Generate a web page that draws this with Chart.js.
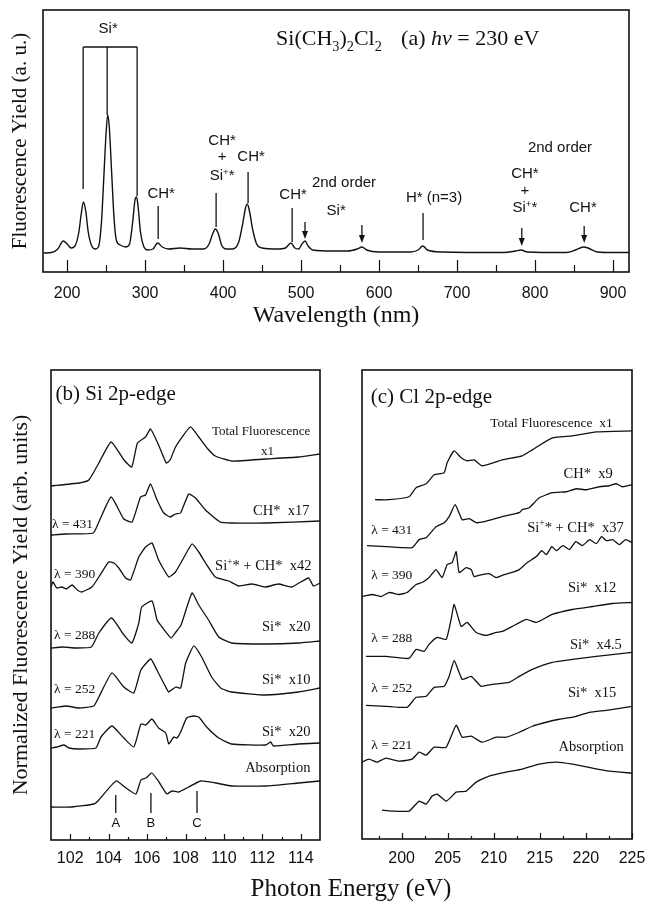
<!DOCTYPE html>
<html>
<head>
<meta charset="utf-8">
<script src="https://cdn.jsdelivr.net/npm/chart.js@4.4.1/dist/chart.umd.min.js"></script>
<style>
  body { margin: 0; background: #fff; }
  #page { position: relative; width: 648px; height: 901px; overflow: hidden; background: #fff; }
  canvas { position: absolute; }
  #energyTitle {
    position: absolute; left: 201px; width: 300px; top: 875px;
    text-align: center; font: 25px/25px "Liberation Serif", "Times New Roman", serif; color: #111;
  }
</style>
</head>
<body>
<div id="page">
  <canvas id="spectrum" width="648" height="330" style="left:0;top:0"></canvas>
  <canvas id="siEdge" width="340" height="571" style="left:0;top:330px"></canvas>
  <canvas id="clEdge" width="308" height="571" style="left:340px;top:330px"></canvas>
  <div id="energyTitle">Photon Energy (eV)</div>
</div>
<script>
// (a) fluorescence spectrum, hv = 230 eV
const wavelength = [170, 180, 188, 195, 200, 205, 210, 215, 218, 221, 224, 227, 231, 236, 240, 244, 247, 250, 252, 254,
  257, 260, 263, 268, 275, 280, 284, 287, 289, 291, 294, 298, 303, 310, 316, 322, 330, 345, 360, 375,
  382, 386, 390, 394, 398, 404, 412, 420, 425, 429, 431, 434, 438, 443, 450, 470, 480, 487, 492, 497,
  501, 505, 509, 515, 540, 560, 572, 578, 584, 600, 640, 650, 656, 662, 680, 760, 775, 782, 790, 840,
  852, 862, 868, 880, 900, 921];
const fluorYield = [-0.1, -0.05, 0.3, 1.1, 0.8, 0.4, 0.6, 2.0, 3.8, 5.0, 4.0, 2.0, 0.7, 0.3, 0.5, 3.0, 7.5, 12.0, 13.7, 12.5,
  8.0, 3.5, 1.2, 0.7, 0.5, 0.8, 3.0, 5.2, 5.5, 4.5, 2.0, 0.6, 0.2, 0.3, 0.9, 0.5, 0.3, 0.4, 0.3, 0.3,
  0.8, 1.7, 2.3, 1.8, 0.7, 0.3, 0.3, 1.0, 2.8, 4.5, 4.8, 4.0, 2.2, 0.8, 0.4, 0.3, 0.4, 0.9, 0.4, 0.3,
  0.8, 1.1, 0.6, 0.2, 0.1, 0.1, 0.3, 0.5, 0.2, 0, 0, 0.2, 0.6, 0.2, 0, -0.05, 0.1, 0.2, 0, -0.05,
  0.2, 0.5, 0.4, 0, -0.05, -0.05];
const wlTicks = [200, 300, 400, 500, 600, 700, 800, 900];
const wlMinor = [250, 350, 450, 550, 650, 750, 850];

// (b) Si 2p-edge excitation curves
const siTicks = [102, 104, 106, 108, 110, 112, 114];
const siMinor = [103, 105, 107, 109, 111, 113];
const siTotalE = [101.0, 102.45, 102.97, 103.49, 104.13, 104.8, 105.2, 105.5, 105.92, 106.18, 106.6, 107.0, 107.2, 107.48, 108.25, 108.69, 109.12, 109.55, 110.42, 112.15, 113.88, 115.0];
const siTotalY = [35.4, 35.7, 36.0, 37.7, 39.8, 38.0, 37.3, 39.7, 40.3, 41.1, 39.5, 37.7, 38.0, 39.3, 41.3, 40.3, 39.2, 38.4, 37.9, 38.1, 38.3, 38.6];
const si431E = [101.0, 101.76, 103.2, 103.49, 104.13, 104.79, 105.22, 105.66, 105.92, 106.18, 106.52, 106.87, 107.2, 107.48, 107.74, 108.17, 108.52, 109.04, 109.8, 110.4, 112.15, 115.0];
const si431Y = [30.5, 30.6, 30.7, 31.8, 34.3, 32.1, 31.8, 34.3, 34.5, 35.6, 34.0, 32.7, 32.3, 32.6, 32.7, 34.6, 34.2, 33.0, 31.8, 31.7, 31.7, 31.9];
const si390E = [101.0, 101.1, 101.3, 101.57, 101.8, 102.1, 102.37, 102.6, 103.13, 103.49, 104.0, 104.27, 104.53, 104.88, 105.14, 105.57, 105.92, 106.26, 106.6, 107.13, 107.48, 107.9, 108.34, 108.69, 109.04, 109.55, 110.25, 110.77, 111.46, 112.15, 112.84, 113.53, 114.4, 114.66, 115.0];
const si390Y = [25.3, 25.8, 25.2, 25.3, 25.1, 25.5, 25.0, 24.8, 25.3, 26.3, 27.8, 27.7, 27.2, 26.2, 26.0, 28.3, 29.3, 29.7, 28.0, 26.3, 26.8, 28.2, 29.6, 28.8, 27.7, 26.3, 25.9, 25.4, 25.6, 25.3, 25.6, 25.3, 26.2, 25.4, 25.7];
const si288E = [101.0, 101.6, 102.3, 103.1, 103.49, 104.15, 104.8, 105.2, 105.57, 105.72, 106.26, 106.52, 106.78, 107.25, 107.5, 107.77, 108.34, 108.69, 109.2, 109.73, 110.4, 112.2, 113.9, 115.0];
const si288Y = [19.2, 19.3, 19.2, 19.3, 20.7, 22.2, 20.5, 19.7, 21.7, 23.3, 23.9, 22.0, 21.3, 20.2, 20.8, 21.5, 24.7, 23.5, 22.0, 20.3, 19.7, 19.6, 19.7, 19.9];
const si252E = [101.0, 101.78, 102.45, 103.23, 103.49, 104.17, 104.79, 105.31, 105.68, 106.19, 106.51, 106.97, 107.13, 107.49, 107.75, 108.01, 108.43, 108.84, 109.36, 109.83, 110.4, 112.17, 113.88, 115.0];
const si252Y = [13.2, 13.4, 13.2, 13.4, 14.3, 16.7, 15.3, 14.7, 17.0, 18.1, 17.0, 15.3, 14.8, 15.3, 15.2, 17.7, 19.4, 18.3, 16.3, 15.2, 14.8, 14.5, 14.8, 15.2];
const si221E = [101.0, 101.31, 101.68, 101.94, 102.45, 103.34, 103.6, 104.17, 104.79, 105.31, 105.68, 105.94, 106.25, 106.6, 106.97, 107.13, 107.39, 107.55, 107.75, 108.06, 108.43, 108.69, 109.1, 109.73, 110.4, 112.17, 112.43, 112.58, 113.88, 115.0];
const si221Y = [9.2, 9.3, 9.5, 9.2, 9.1, 9.2, 10.3, 11.4, 10.2, 9.3, 11.6, 11.5, 12.1, 11.2, 10.7, 9.6, 10.3, 10.2, 10.8, 12.2, 12.4, 12.3, 11.3, 10.2, 9.6, 9.5, 9.8, 9.4, 9.6, 9.7];
const siAbsE = [101.0, 102.09, 103.23, 103.49, 104.38, 104.9, 105.42, 105.68, 105.94, 106.25, 106.62, 107.03, 107.29, 107.65, 108.17, 108.79, 109.57, 110.4, 112.17, 113.88, 115.0];
const siAbsY = [3.3, 3.3, 3.6, 4.0, 5.9, 5.2, 4.6, 6.0, 6.2, 6.7, 5.8, 4.6, 4.9, 4.8, 5.3, 5.9, 5.7, 5.4, 5.4, 5.7, 5.9];

// (c) Cl 2p-edge excitation curves
const clTicks = [200, 205, 210, 215, 220, 225];
const clMinor = [197.5, 202.5, 207.5, 212.5, 217.5, 222.5];
const clTotalE = [197.11, 198.63, 200.81, 201.57, 202.66, 203.53, 204.61, 204.94, 205.7, 206.46, 207.11, 207.87, 208.74, 210.92, 213.09, 214.18, 216.35, 218.53, 221.13, 225.0];
const clTotalY = [34.0, 34.0, 34.3, 35.2, 35.6, 36.5, 36.7, 37.7, 38.9, 38.2, 37.9, 38.0, 37.4, 38.0, 38.4, 39.0, 40.2, 40.4, 40.8, 40.9];
const cl431E = [196.24, 198.31, 201.13, 201.9, 202.66, 203.74, 204.61, 205.16, 205.81, 206.57, 207.33, 208.09, 208.96, 210.92, 212.77, 213.09, 213.85, 214.94, 216.35, 217.87, 218.96, 220.04, 221.46, 222.54, 223.3, 223.96, 225.0];
const cl431Y = [29.4, 29.3, 29.2, 30.0, 30.2, 31.3, 31.7, 32.3, 33.5, 32.0, 32.1, 31.7, 31.8, 32.3, 32.7, 33.0, 33.2, 34.2, 34.7, 34.8, 35.1, 35.0, 35.3, 35.4, 35.6, 35.3, 35.5];
const cl390E = [195.7, 196.79, 197.77, 198.63, 199.72, 200.59, 201.57, 202.22, 202.98, 203.74, 204.4, 204.94, 205.48, 205.92, 206.24, 207.0, 207.55, 207.87, 208.74, 209.5, 210.27, 211.14, 211.9, 212.77, 213.64, 214.62, 215.2, 215.71, 216.3, 216.79, 217.5, 218.2, 218.9, 219.62, 220.4, 221.13, 221.7, 222.22, 222.9, 223.64, 224.3, 225.0];
const cl390Y = [24.3, 24.5, 24.3, 24.7, 24.5, 24.7, 25.5, 25.7, 26.2, 27.0, 26.2, 27.5, 27.7, 28.8, 26.7, 27.2, 27.0, 26.3, 26.5, 26.6, 26.2, 26.5, 26.7, 27.0, 27.7, 28.3, 28.9, 28.5, 29.3, 28.9, 29.4, 29.0, 29.8, 29.4, 30.0, 29.6, 30.3, 29.9, 30.0, 29.5, 30.0, 29.7];
const cl288E = [196.13, 198.31, 200.81, 201.57, 202.44, 202.98, 203.85, 204.83, 205.37, 205.7, 206.46, 207.11, 208.09, 209.18, 210.27, 210.92, 212.0, 213.53, 214.62, 216.35, 218.53, 220.7, 222.88, 225.0];
const cl288Y = [18.3, 18.3, 18.1, 19.0, 18.8, 19.5, 20.2, 20.0, 22.0, 23.5, 21.3, 21.7, 20.7, 20.4, 20.7, 20.8, 21.3, 22.0, 21.7, 22.5, 23.0, 23.3, 23.6, 23.7];
const cl252E = [196.13, 198.31, 200.59, 201.57, 202.66, 203.53, 204.61, 205.16, 205.7, 206.57, 207.55, 208.63, 209.83, 211.68, 212.77, 214.18, 216.35, 218.53, 221.13, 225.0];
const cl252Y = [13.4, 13.3, 13.2, 14.2, 14.3, 15.2, 15.3, 16.3, 17.9, 16.0, 16.3, 15.3, 15.5, 15.7, 16.3, 17.0, 17.7, 18.0, 18.3, 18.7];
const cl221E = [195.7, 196.46, 197.33, 198.31, 199.72, 201.13, 201.9, 202.66, 203.53, 204.83, 205.92, 206.57, 207.55, 208.74, 210.27, 211.35, 212.77, 214.18, 215.7, 217.11, 218.96, 220.37, 222.22, 223.64, 225.0];
const cl221Y = [7.7, 8.0, 7.7, 8.1, 7.8, 8.0, 8.7, 8.4, 9.2, 9.2, 11.4, 10.2, 10.3, 9.7, 10.2, 10.2, 10.7, 11.3, 11.7, 12.0, 12.3, 12.7, 12.9, 13.1, 13.3];
const clAbsE = [197.87, 198.96, 200.81, 201.9, 202.66, 203.31, 203.85, 204.83, 205.37, 205.92, 207.0, 208.09, 209.5, 211.35, 213.09, 214.94, 216.79, 218.53, 220.7, 222.55, 225.0];
const clAbsY = [2.9, 2.8, 2.8, 3.8, 3.5, 4.3, 4.5, 3.8, 4.2, 4.7, 4.8, 5.7, 6.3, 6.7, 7.0, 7.5, 7.7, 7.5, 7.1, 6.8, 6.6];

// annotations, in data units of each panel
const spectrumNotes = [
  { x: 252.6, y: 22.4, text: 'Si*' },
  { x: 320.5, y: 5.9, text: 'CH*' },
  { x: 398.7, y: 11.2, text: 'CH*' },
  { x: 398.7, y: 9.6, text: '+' },
  { x: 398.7, y: 7.7, text: 'Si^{+}*' },
  { x: 435.9, y: 9.6, text: 'CH*' },
  { x: 489.7, y: 5.8, text: 'CH*' },
  { x: 555, y: 7.0, text: '2nd order' },
  { x: 545, y: 4.2, text: 'Si*' },
  { x: 670.5, y: 5.5, text: 'H* (n=3)' },
  { x: 832, y: 10.5, text: '2nd order' },
  { x: 787, y: 7.9, text: 'CH*' },
  { x: 787, y: 6.2, text: '+' },
  { x: 787, y: 4.5, text: 'Si^{+}*' },
  { x: 861.5, y: 4.5, text: 'CH*' },
  { x: 467.9, y: 21.5, text: 'Si(CH_{3})_{2}Cl_{2}', align: 'left', font: 'serif', size: 22 },
  { x: 628.2, y: 21.5, text: '(a) ~{hν} = 230 eV', align: 'left', font: 'serif', size: 22 },
];
const spectrumMarks = [
  { x: 316.7, y1: 4.6, y2: 1.3 },
  { x: 391, y1: 5.9, y2: 2.5 },
  { x: 432, y1: 8.0, y2: 4.9 },
  { x: 488.5, y1: 4.4, y2: 1.0 },
  { x: 505, y1: 3.0, y2: 1.3, arrow: true },
  { x: 578, y1: 2.7, y2: 0.9, arrow: true },
  { x: 656.4, y1: 3.9, y2: 1.2 },
  { x: 783, y1: 2.4, y2: 0.6, arrow: true },
  { x: 863, y1: 2.6, y2: 0.9, arrow: true },
  { x: 220.5, y1: 20.5, y2: 6.3 },
  { x: 251.3, y1: 20.5, y2: 13.7 },
  { x: 289.7, y1: 20.5, y2: 5.6 },
];
const spectrumBracket = { x1: 220.5, x2: 289.7, y: 20.5 };

const siNotes = [
  { x: 101.24, y: 44.8, text: '(b) Si 2p-edge', align: 'left', font: 'serif', size: 21 },
  { x: 114.5, y: 41.0, text: 'Total Fluorescence', align: 'right', font: 'serif', size: 13 },
  { x: 112.27, y: 39.0, text: 'x1', font: 'serif', size: 13 },
  { x: 114.45, y: 33.0, text: 'CH*  x17', align: 'right', font: 'serif', size: 14.5 },
  { x: 101.05, y: 31.7, text: 'λ = 431', align: 'left', font: 'serif', size: 13.5 },
  { x: 114.56, y: 27.5, text: 'Si^{+}* + CH*  x42', align: 'right', font: 'serif', size: 14.5 },
  { x: 101.16, y: 26.7, text: 'λ = 390', align: 'left', font: 'serif', size: 13.5 },
  { x: 114.5, y: 21.4, text: 'Si*  x20', align: 'right', font: 'serif', size: 14.5 },
  { x: 101.16, y: 20.6, text: 'λ = 288', align: 'left', font: 'serif', size: 13.5 },
  { x: 114.5, y: 16.1, text: 'Si*  x10', align: 'right', font: 'serif', size: 14.5 },
  { x: 101.16, y: 15.2, text: 'λ = 252', align: 'left', font: 'serif', size: 13.5 },
  { x: 114.5, y: 10.9, text: 'Si*  x20', align: 'right', font: 'serif', size: 14.5 },
  { x: 101.16, y: 10.7, text: 'λ = 221', align: 'left', font: 'serif', size: 13.5 },
  { x: 114.5, y: 7.3, text: 'Absorption', align: 'right', font: 'serif', size: 14.5 },
  { x: 104.37, y: 1.8, text: 'A', size: 13 },
  { x: 106.2, y: 1.8, text: 'B', size: 13 },
  { x: 108.6, y: 1.8, text: 'C', size: 13 },
];
const siMarks = [
  { x: 104.37, y1: 4.5, y2: 2.7 },
  { x: 106.2, y1: 4.7, y2: 2.7 },
  { x: 108.6, y1: 4.9, y2: 2.7 },
];

const clNotes = [
  { x: 196.65, y: 44.5, text: '(c) Cl 2p-edge', align: 'left', font: 'serif', size: 21 },
  { x: 222.9, y: 41.8, text: 'Total Fluorescence  x1', align: 'right', font: 'serif', size: 13.5 },
  { x: 222.9, y: 36.7, text: 'CH*  x9', align: 'right', font: 'serif', size: 14.5 },
  { x: 196.7, y: 31.1, text: 'λ = 431', align: 'left', font: 'serif', size: 13.5 },
  { x: 224.1, y: 31.3, text: 'Si^{+}* + CH*  x37', align: 'right', font: 'serif', size: 14.5 },
  { x: 196.7, y: 26.5, text: 'λ = 390', align: 'left', font: 'serif', size: 13.5 },
  { x: 223.3, y: 25.3, text: 'Si*  x12', align: 'right', font: 'serif', size: 14.5 },
  { x: 196.7, y: 20.2, text: 'λ = 288', align: 'left', font: 'serif', size: 13.5 },
  { x: 223.9, y: 19.6, text: 'Si*  x4.5', align: 'right', font: 'serif', size: 14.5 },
  { x: 196.7, y: 15.2, text: 'λ = 252', align: 'left', font: 'serif', size: 13.5 },
  { x: 223.3, y: 14.8, text: 'Si*  x15', align: 'right', font: 'serif', size: 14.5 },
  { x: 196.7, y: 9.5, text: 'λ = 221', align: 'left', font: 'serif', size: 13.5 },
  { x: 224.1, y: 9.3, text: 'Absorption', align: 'right', font: 'serif', size: 14.5 },
];

const INK = '#111';
const SANS = '"Liberation Sans", Arial, sans-serif';
const SERIF = '"Liberation Serif", "Times New Roman", serif';

function parseRich(str) {
  const parts = [];
  const re = /\^\{([^}]*)\}|_\{([^}]*)\}|~\{([^}]*)\}|([^^_~]+)/g;
  let m;
  while ((m = re.exec(str))) {
    if (m[1] !== undefined) parts.push([m[1], 'sup']);
    else if (m[2] !== undefined) parts.push([m[2], 'sub']);
    else if (m[3] !== undefined) parts.push([m[3], 'it']);
    else parts.push([m[4], '']);
  }
  return parts;
}

function drawRich(ctx, str, x, y, align, size, family) {
  const segs = parseRich(str).map(([t, k]) => {
    const s = (k === 'sup' || k === 'sub') ? size * 0.65 : size;
    const font = (k === 'it' ? 'italic ' : '') + s + 'px ' + family;
    ctx.font = font;
    return { t, font, w: ctx.measureText(t).width, dy: k === 'sup' ? -size * 0.38 : k === 'sub' ? size * 0.28 : 0 };
  });
  const total = segs.reduce((a, s) => a + s.w, 0);
  let cx = align === 'center' ? x - total / 2 : align === 'right' ? x - total : x;
  ctx.textAlign = 'left';
  ctx.textBaseline = 'alphabetic';
  for (const s of segs) {
    ctx.font = s.font;
    ctx.fillText(s.t, cx, y + s.dy);
    cx += s.w;
  }
}

function framePlugin(cfg) {
  return {
    id: 'frame',
    afterDatasetsDraw(chart) {
      const { ctx, chartArea: a, scales: { x, y } } = chart;
      ctx.save();
      ctx.strokeStyle = INK;
      ctx.fillStyle = INK;
      ctx.lineWidth = 1.6;
      ctx.strokeRect(a.left, a.top, a.right - a.left, a.bottom - a.top);

      ctx.lineWidth = 1.2;
      const tick = (v, len) => {
        const px = Math.round(x.getPixelForValue(v)) + 0.5;
        ctx.beginPath();
        ctx.moveTo(px, a.bottom);
        ctx.lineTo(px, a.bottom - len);
        ctx.stroke();
      };
      cfg.majors.forEach(v => tick(v, cfg.majorLen));
      cfg.minors.forEach(v => tick(v, cfg.minorLen));

      ctx.lineWidth = 1.3;
      (cfg.marks || []).forEach(m => {
        const px = x.getPixelForValue(m.x);
        const top = y.getPixelForValue(m.y1);
        const bot = y.getPixelForValue(m.y2);
        ctx.beginPath();
        ctx.moveTo(px, top);
        ctx.lineTo(px, m.arrow ? bot - 6 : bot);
        ctx.stroke();
        if (m.arrow) {
          ctx.beginPath();
          ctx.moveTo(px - 3, bot - 8);
          ctx.lineTo(px + 3, bot - 8);
          ctx.lineTo(px, bot);
          ctx.closePath();
          ctx.fill();
        }
      });
      if (cfg.bracket) {
        const b = cfg.bracket;
        const py = y.getPixelForValue(b.y);
        ctx.beginPath();
        ctx.moveTo(x.getPixelForValue(b.x1), py);
        ctx.lineTo(x.getPixelForValue(b.x2), py);
        ctx.stroke();
      }

      (cfg.notes || []).forEach(n => {
        const size = n.size || 15;
        const family = n.font === 'serif' ? SERIF : SANS;
        const px = x.getPixelForValue(n.x);
        const py = y.getPixelForValue(n.y) + size * 0.36;
        drawRich(ctx, n.text, px, py, n.align || 'center', size, family);
      });
      ctx.restore();
    }
  };
}

function curve(xs, ys, width) {
  return {
    data: xs.map((v, i) => ({ x: v, y: ys[i] })),
    borderColor: INK,
    borderWidth: width || 1.3,
    pointRadius: 0,
    tension: 0.15,
    fill: false,
  };
}

function bottomAxis(min, max, majors, height, padding, title) {
  return {
    type: 'linear', min, max,
    grid: { display: false }, border: { display: false },
    afterBuildTicks: s => { s.ticks = majors.map(v => ({ value: v })); },
    afterFit: s => { s.height = height; s.paddingLeft = 0; s.paddingRight = 0; },
    ticks: { autoSkip: false, maxRotation: 0, padding, color: INK, font: { family: SANS, size: 16 }, callback: v => String(v) },
    title: title ? { display: true, text: title, color: INK, font: { family: SERIF, size: 24 }, padding: { top: 0, bottom: 0 } } : { display: false },
  };
}

function leftAxis(min, max, width, title, size) {
  return {
    type: 'linear', min, max,
    display: !!title,
    grid: { display: false }, border: { display: false },
    ticks: { display: false },
    afterFit: s => { s.width = width; s.paddingTop = 0; s.paddingBottom = 0; },
    title: { display: !!title, text: title, color: INK, font: { family: SERIF, size }, padding: { top: 8, bottom: 0 } },
  };
}

function baseOptions(padding, scales) {
  return {
    responsive: false,
    animation: false,
    devicePixelRatio: 1,
    events: [],
    layout: { padding },
    plugins: { legend: { display: false }, tooltip: { enabled: false } },
    scales,
  };
}

const spectrumDs = curve(wavelength, fluorYield, 1.4);
spectrumDs.tension = 0;
spectrumDs.cubicInterpolationMode = 'monotone';

new Chart(document.getElementById('spectrum'), {
  type: 'line',
  data: { datasets: [spectrumDs] },
  options: baseOptions({ left: 0, top: 10, right: 19, bottom: 0 }, {
    x: bottomAxis(169, 920.5, wlTicks, 58, 4, 'Wavelength (nm)'),
    y: leftAxis(-2.0, 24.2, 43, 'Fluorescence Yield (a. u.)', 21),
  }),
  plugins: [framePlugin({ majors: wlTicks, minors: wlMinor, majorLen: 12, minorLen: 7, notes: spectrumNotes, marks: spectrumMarks, bracket: spectrumBracket })],
});

new Chart(document.getElementById('siEdge'), {
  type: 'line',
  data: {
    datasets: [
      curve(siTotalE, siTotalY), curve(si431E, si431Y), curve(si390E, si390Y),
      curve(si288E, si288Y), curve(si252E, si252Y), curve(si221E, si221Y), curve(siAbsE, siAbsY),
    ]
  },
  options: baseOptions({ left: 0, top: 40, right: 20, bottom: 0 }, {
    x: bottomAxis(101, 115, siTicks, 61, 1),
    y: leftAxis(0, 47, 51, 'Normalized Fluorescence Yield (arb. units)', 22),
  }),
  plugins: [framePlugin({ majors: siTicks, minors: siMinor, majorLen: 6, minorLen: 3, notes: siNotes, marks: siMarks })],
});

new Chart(document.getElementById('clEdge'), {
  type: 'line',
  data: {
    datasets: [
      curve(clTotalE, clTotalY), curve(cl431E, cl431Y), curve(cl390E, cl390Y),
      curve(cl288E, cl288Y), curve(cl252E, cl252Y), curve(cl221E, cl221Y), curve(clAbsE, clAbsY),
    ]
  },
  options: baseOptions({ left: 22, top: 40, right: 16, bottom: 0 }, {
    x: bottomAxis(195.7, 225, clTicks, 62, 2),
    y: leftAxis(0, 47, 0, null, 20),
  }),
  plugins: [framePlugin({ majors: clTicks, minors: clMinor, majorLen: 6, minorLen: 3, notes: clNotes })],
});
</script>
</body>
</html>
